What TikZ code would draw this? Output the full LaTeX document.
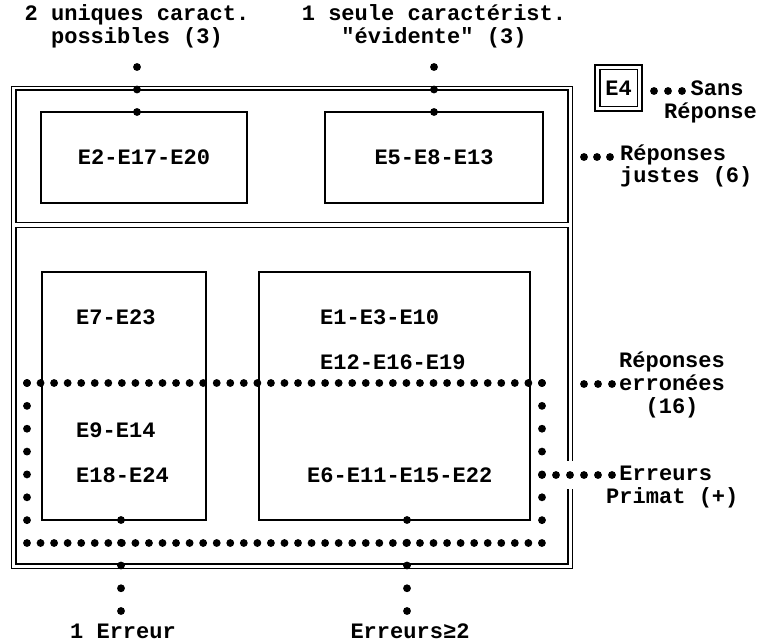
\documentclass[tikz,border=0pt]{standalone}
\usepackage{fontspec}
\setmonofont{Liberation Mono}
\usetikzlibrary{positioning}

\begin{document}
\begin{tikzpicture}[x=0.03cm,y=-0.03cm,
  every node/.style={font=\ttfamily\bfseries\fontsize{18.8}{19.5}\selectfont,inner sep=0pt},
  cadre/.style={draw,line width=1.4pt,outer sep=0pt},
  boite/.style={draw,line width=1.4pt,outer sep=0pt},
  pointille/.style={line width=0.235cm,line cap=round,dash pattern=on 0pt off #1}]
  \fill[white] (0,0) rectangle (760,642); % fond, fixe aussi les marges

  % cadre général : réponses justes en haut, réponses erronées en bas
  \draw[line width=1.4pt] (11.5,86.5) rectangle (572.5,568.5);
  \node[cadre,minimum width=16.56cm,minimum height=3.975cm] (justes) at (292,156.25) {};
  \node[cadre,minimum width=16.56cm,minimum height=10.095cm] (erronees) at (292,395.75) {};

  % boîtes du haut
  \node[boite,minimum width=6.18cm,minimum height=2.73cm] (uniques) at (144,157.5) {E2-E17-E20};
  \node[boite,minimum width=6.54cm,minimum height=2.73cm] (seule) at (434,157.5) {E5-E8-E13};

  % boîtes du bas (1 erreur / au moins 2 erreurs)
  \node[boite,minimum width=4.92cm,minimum height=7.44cm] (un) at (124,396) {};
  \node[boite,minimum width=8.13cm,minimum height=7.44cm] (deux) at (394.5,396) {};
  \node[anchor=west] (e7) at (76,317) {E7-E23};
  \node[anchor=west] (e9) at (76,430) {E9-E14};
  \node[anchor=west] (e18) at (76,475) {E18-E24};
  \node[anchor=west] (e1) at (320,317) {E1-E3-E10};
  \node[anchor=west] (e12) at (320,362) {E12-E16-E19};
  \node[anchor=west] (e6) at (307,475) {E6-E11-E15-E22};

  % sans réponse
  \node[draw,double,double distance=3pt,line width=1.2pt,minimum width=1.27cm,minimum height=1.24cm] (e4) at (618.5,88) {E4};

  % étiquettes
  \node[align=center] (lab-uniques) at (137,26) {2 uniques caract.\\possibles (3)};
  \node[align=center] (lab-seule) at (434,26) {1 seule caractérist.\\"évidente" (3)};
  \node[align=left,anchor=west] (lab-sans) at (664,102) {~~Sans\\Réponse};
  \node[align=left,anchor=west] (lab-justes) at (620,166) {Réponses\\justes (6)};
  \node[align=center] (lab-erronees) at (672,385) {Réponses\\erronées\\(16)};
  \node[align=left,anchor=west] (lab-primat) at (606,487) {~Erreurs\\Primat (+)};
  \node (lab-un) at (123,631) {1 Erreur};
  \node (lab-deux) at (410,631) {Erreurs≥2};

  % rectangle pointillé des erreurs Primat
  \coordinate (p1) at (27,383);
  \coordinate (p2) at (542,383);
  \coordinate (p3) at (542,543);
  \coordinate (p4) at (27,543);
  \fill[white] (564,461) rectangle (577,489); % coupure du cadre
  \draw[pointille=0.4065cm] (p1) -- (p2);
  \draw[pointille=0.4065cm] (p4) -- (p3);
  \draw[pointille=0.6857cm] (p1) -- (p4);
  \draw[pointille=0.6857cm] (p2) -- (p3);
  \coordinate (q) at (542,475);
  \draw[pointille=0.4199cm] (q) -- (612,475);

  % points de liaison vers les étiquettes
  \coordinate (t1) at (137,67);
  \coordinate (t2) at (434,67);
  \draw[pointille=0.6749cm] (t1) -- (t1 |- uniques.north);
  \draw[pointille=0.6749cm] (t2) -- (t2 |- seule.north);
  \coordinate (b1) at (121,611);
  \coordinate (b2) at (407,611);
  \draw[pointille=0.6824cm] (b1 |- un.south) -- (b1);
  \draw[pointille=0.6824cm] (b2 |- deux.south) -- (b2);
  \coordinate (s1) at (654,91);
  \draw[pointille=0.4199cm] (s1) -- (682,91);
  \coordinate (j1) at (584,157);
  \draw[pointille=0.3899cm] (j1) -- (610,157);
  \coordinate (r1) at (584,384);
  \draw[pointille=0.4199cm] (r1) -- (612,384);
\end{tikzpicture}
\end{document}
